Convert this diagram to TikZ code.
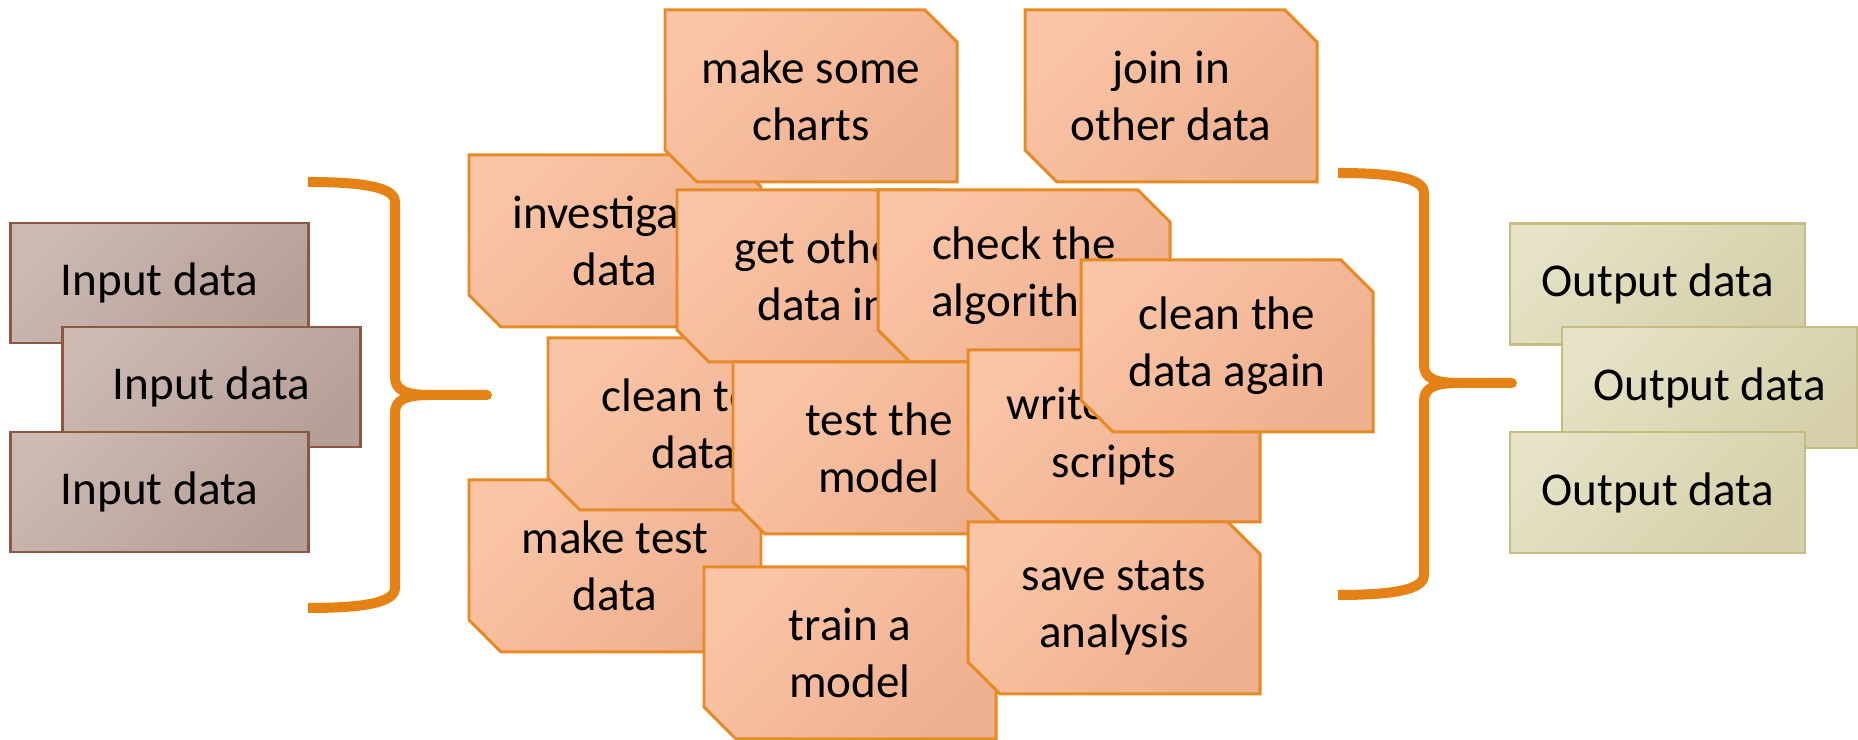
\documentclass[tikz,border=0pt]{standalone}
\usepackage{fontspec}
\setmainfont{Carlito}
\usepackage{tikz}
\usetikzlibrary{shapes.misc}

\definecolor{taskfill}{RGB}{250,196,166}
\definecolor{taskshade}{RGB}{239,176,143}
\definecolor{taskedge}{RGB}{230,138,36}
\definecolor{infill}{RGB}{203,186,178}
\definecolor{inshade}{RGB}{182,159,151}
\definecolor{inedge}{RGB}{140,88,68}
\definecolor{outfill}{RGB}{229,226,198}
\definecolor{outshade}{RGB}{213,208,170}
\definecolor{outedge}{RGB}{196,188,128}
\definecolor{bracecol}{RGB}{228,130,22}

\begin{document}
\begin{tikzpicture}[
    font=\fontsize{13.4pt}{16.3pt}\selectfont,
    task/.style={chamfered rectangle, chamfered rectangle corners={north east, south west},
        chamfered rectangle xsep=0.16cm, chamfered rectangle ysep=0.16cm,
        minimum width=2.92cm, minimum height=1.72cm, inner sep=0pt, align=center,
        draw=taskedge, line width=0.85pt,
        top color=taskfill, bottom color=taskshade, shading angle=45},
    databox/.style={rectangle, minimum width=2.98cm, minimum height=1.2cm, inner sep=0pt, line width=0.7pt},
    inbox/.style={databox, draw=inedge, top color=infill, bottom color=inshade, shading angle=45},
    outbox/.style={databox, minimum width=2.95cm, minimum height=1.21cm,
        draw=outedge, top color=outfill, bottom color=outshade, shading angle=45},
    brace/.style={draw=bracecol, line width=2.85pt, line join=round}
]
    \useasboundingbox (0,0) rectangle (18.58,7.40);

    % 1. Stack of input tables on the left
    \node[inbox] (in1) at (1.595, 4.57) {Input data};
    \node[inbox] (in2) at (2.115, 3.53) {Input data};
    \node[inbox] (in3) at (1.595, 2.48) {Input data};

    % 2. Brace gathering the inputs
    \coordinate (ltip) at (4.87, 3.45);
    \draw[brace] (3.08,5.58) .. controls (3.62,5.58) and (3.95,5.53) .. (3.95,5.38)
        -- (3.95,3.63) .. controls (3.95,3.50) and (4.05,3.45) .. (4.30,3.45) -- (ltip)
        -- (4.30,3.45) .. controls (4.05,3.45) and (3.95,3.40) .. (3.95,3.27)
        -- (3.95,1.52) .. controls (3.95,1.37) and (3.62,1.32) .. (3.08,1.32);

    % 3. The pile of work steps
    % Drawn back to front so the overlaps come out right
    \node[task] (investigate) at (6.15, 4.99) {investigate\\data};
    \node[task] (charts)      at (8.11, 6.44) {make some\\charts};
    \node[task] (join)        at (11.71, 6.44) {join in\\other data};
    \node[task] (maketest)    at (6.15, 1.74) {make test\\data};
    \node[task] (cleantest)   at (6.94, 3.16) {clean test\\data};
    \node[task] (getother)    at (8.23, 4.64) {get other\\data in};
    \node[task] (checkalg)    at (10.24, 4.64) {check the\\algorithm};
    \node[task] (testmodel)   at (8.79, 2.92) {test the\\model};
    \node[task] (train)       at (8.50, 0.87) {train a\\model};
    \node[task] (scripts)     at (11.14, 3.04) {write\hphantom{ some}\\scripts};
    \node[task] (stats)       at (11.14, 1.32) {save stats\\analysis};
    \node[task] (cleanagain)  at (12.27, 3.94) {clean the\\data again};

    % 4. Brace leading to the outputs
    \coordinate (rtip) at (15.12, 3.57);
    \draw[brace] (13.38,5.67) .. controls (13.92,5.67) and (14.24,5.62) .. (14.24,5.47)
        -- (14.24,3.75) .. controls (14.24,3.62) and (14.34,3.57) .. (14.59,3.57) -- (rtip)
        -- (14.59,3.57) .. controls (14.34,3.57) and (14.24,3.52) .. (14.24,3.39)
        -- (14.24,1.65) .. controls (14.24,1.50) and (13.92,1.45) .. (13.38,1.45);

    % 5. Stack of output tables on the right
    \node[outbox] (out1) at (16.575, 4.56) {Output data};
    \node[outbox] (out2) at (17.095, 3.525) {Output data};
    \node[outbox] (out3) at (16.575, 2.475) {Output data};

\end{tikzpicture}
\end{document}
